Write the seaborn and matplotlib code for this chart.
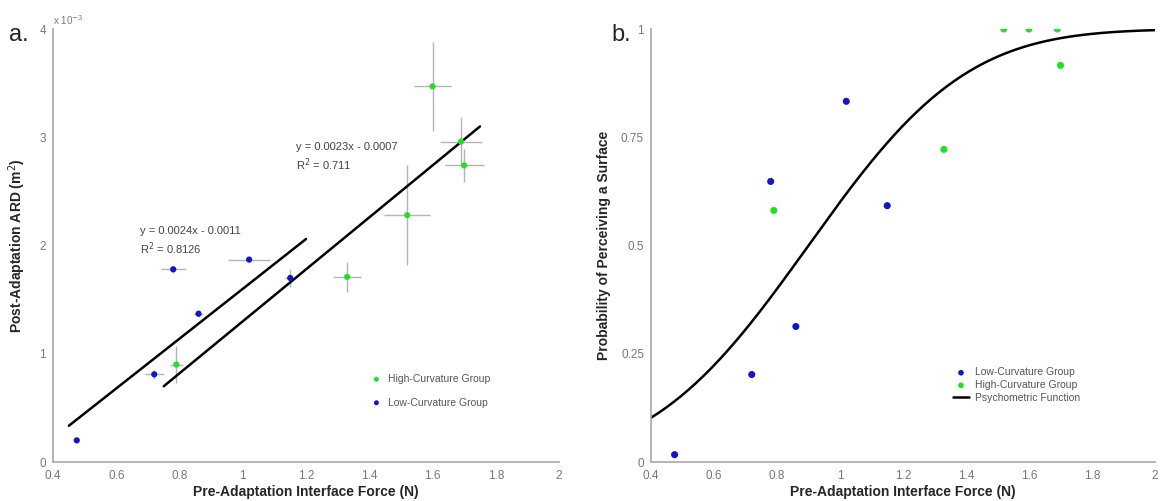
import math
import numpy as np
import pandas as pd
import matplotlib
matplotlib.use("Agg")
import matplotlib.pyplot as plt
import seaborn as sns

# force values shared by both panels (N)
low_force = [0.475, 0.72, 0.78, 0.86, 1.02, 1.15]
high_force = [0.79, 1.33, 1.52, 1.60, 1.69, 1.70]

# panel a: post-adaptation ARD (x 10^-3 m^2) with error bars
low_ard = [0.20, 0.81, 1.78, 1.37, 1.87, 1.70]
high_ard = [0.90, 1.71, 2.28, 3.47, 2.96, 2.74]
low_xerr = [0.0, 0.03, 0.04, 0.015, 0.067, 0.015]
low_yerr = [0.0, 0.04, 0.03, 0.03, 0.02, 0.08]
high_xerr = [0.02, 0.045, 0.072, 0.058, 0.067, 0.062]
high_yerr = [0.17, 0.14, 0.46, 0.41, 0.23, 0.15]

# fitted lines as drawn (slope, intercept in 10^-3 units, x range)
fit_upper = (2.3, -0.7, [0.45, 1.2])
fit_lower = (2.4, -1.1, [0.75, 1.75])

# panel b: probability of perceiving a surface
low_prob = [0.017, 0.202, 0.648, 0.313, 0.833, 0.592]
high_prob = [0.581, 0.722, 1.0, 1.0, 1.0, 0.916]
psy_mu, psy_sigma = 0.90, 0.394

blue = "#1414c8"
green = "#22e022"
gray_axis = "#a8a8a8"
gray_text = "#777777"

sns.set_style("white")
plt.rcParams["font.family"] = ["Liberation Sans", "DejaVu Sans"]

fig = plt.figure(figsize=(11.61, 5.01), dpi=100)
ax1 = fig.add_axes([0.0457, 0.0778, 0.4358, 0.8643])
ax2 = fig.add_axes([0.5607, 0.0778, 0.4341, 0.8643])

low_a = pd.DataFrame({"force": low_force, "ard": low_ard})
high_a = pd.DataFrame({"force": high_force, "ard": high_ard})

ax1.errorbar(high_force, high_ard, xerr=high_xerr, yerr=high_yerr, fmt="none",
             ecolor="#b4b4b4", elinewidth=1.0, capsize=0, zorder=1)
ax1.errorbar(low_force, low_ard, xerr=low_xerr, yerr=low_yerr, fmt="none",
             ecolor="#b4b4b4", elinewidth=1.0, capsize=0, zorder=1)

for slope, icpt, xr in [fit_upper, fit_lower]:
    xs = np.array(xr)
    sns.lineplot(x=xs, y=slope * xs + icpt, ax=ax1, color="black", lw=1.8, zorder=2)

sns.scatterplot(data=high_a, x="force", y="ard", ax=ax1, color=green, s=20,
                edgecolor="none", label="High-Curvature Group", zorder=3)
sns.scatterplot(data=low_a, x="force", y="ard", ax=ax1, color=blue, s=20,
                edgecolor="none", label="Low-Curvature Group", zorder=3)

ax1.text(0.675, 2.137, "y = 0.0024x - 0.0011", fontsize=8, color="#444444", va="center")
ax1.text(0.675, 1.968, "R$^2$ = 0.8126", fontsize=8, color="#444444", va="center")
ax1.text(1.167, 2.913, "y = 0.0023x - 0.0007", fontsize=8, color="#444444", va="center")
ax1.text(1.167, 2.744, "R$^2$ = 0.711", fontsize=8, color="#444444", va="center")

ax1.set_xlim(0.4, 2)
ax1.set_ylim(0, 4)
ax1.set_xticks([0.4, 0.6, 0.8, 1, 1.2, 1.4, 1.6, 1.8, 2])
ax1.set_xticklabels(["0.4", "0.6", "0.8", "1", "1.2", "1.4", "1.6", "1.8", "2"])
ax1.set_yticks([0, 1, 2, 3, 4])
ax1.set_yticklabels(["0", "1", "2", "3", "4"])
ax1.set_xlabel("Pre-Adaptation Interface Force (N)", fontsize=10, fontweight="bold",
               labelpad=2)
ax1.set_ylabel("Post-Adaptation ARD (m$^2$)", fontsize=10, fontweight="bold", labelpad=8)
ax1.text(0.0, 1.005, "x 10$^{-3}$", transform=ax1.transAxes, fontsize=7,
         color=gray_text, va="bottom", ha="left")
leg1 = ax1.legend(loc="upper left", bbox_to_anchor=(0.6, 0.225), frameon=False,
                  fontsize=7.5, labelspacing=1.3, handletextpad=0.1, markerscale=0.8)
for t in leg1.get_texts():
    t.set_color("#555555")

# panel b
low_b = pd.DataFrame({"force": low_force, "prob": low_prob})
high_b = pd.DataFrame({"force": high_force, "prob": high_prob})
xs = np.linspace(0.4, 2, 200)
psy = [0.5 * (1 + math.erf((v - psy_mu) / (psy_sigma * math.sqrt(2)))) for v in xs]

sns.scatterplot(data=low_b, x="force", y="prob", ax=ax2, color=blue, s=26,
                edgecolor="none", label="Low-Curvature Group", zorder=3)
sns.scatterplot(data=high_b, x="force", y="prob", ax=ax2, color=green, s=26,
                edgecolor="none", label="High-Curvature Group", zorder=3)
sns.lineplot(x=xs, y=psy, ax=ax2, color="black", lw=1.8, label="Psychometric Function",
             zorder=2)

ax2.set_xlim(0.4, 2)
ax2.set_ylim(0, 1)
ax2.set_xticks([0.4, 0.6, 0.8, 1, 1.2, 1.4, 1.6, 1.8, 2])
ax2.set_xticklabels(["0.4", "0.6", "0.8", "1", "1.2", "1.4", "1.6", "1.8", "2"])
ax2.set_yticks([0, 0.25, 0.5, 0.75, 1])
ax2.set_yticklabels(["0", "0.25", "0.5", "0.75", "1"])
ax2.set_xlabel("Pre-Adaptation Interface Force (N)", fontsize=10, fontweight="bold",
               labelpad=2)
ax2.set_ylabel("Probability of Perceiving a Surface", fontsize=10, fontweight="bold",
               labelpad=7)
leg2 = ax2.legend(loc="upper left", bbox_to_anchor=(0.58, 0.24), frameon=False,
                  fontsize=7.5, labelspacing=0.25, handletextpad=0.5, handlelength=1.6,
                  markerscale=0.8)
for t in leg2.get_texts():
    t.set_color("#555555")

for ax in (ax1, ax2):
    for side in ("top", "right"):
        ax.spines[side].set_visible(False)
    for side in ("left", "bottom"):
        ax.spines[side].set_color(gray_axis)
        ax.spines[side].set_linewidth(1.2)
    ax.tick_params(direction="in", length=4, width=1, color=gray_axis,
                   labelcolor=gray_text, labelsize=8.5)
    ax.tick_params(axis="x", pad=6)
    ax.tick_params(axis="y", pad=5)

fig.text(0.008, 0.93, "a.", fontsize=17, ha="left", va="center")
fig.text(0.527, 0.93, "b.", fontsize=17, ha="left", va="center")

fig.savefig("out.png", dpi=100)
